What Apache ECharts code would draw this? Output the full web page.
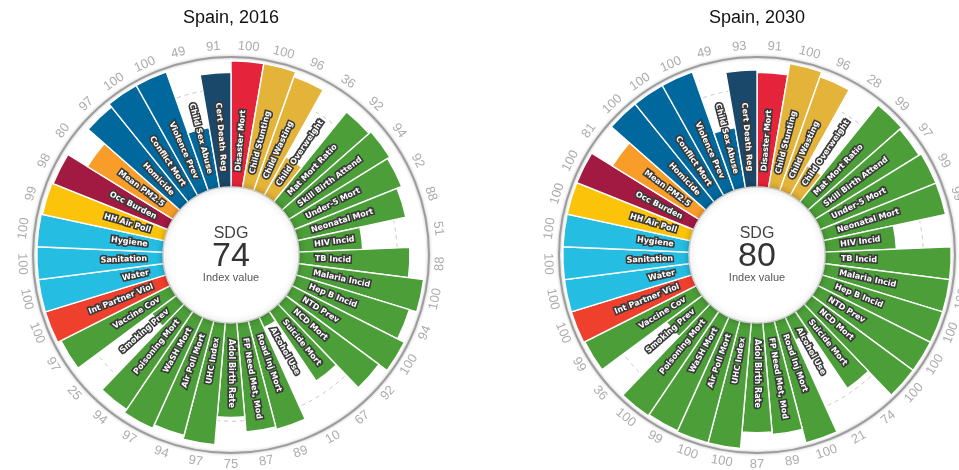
<!DOCTYPE html>
<html><head><meta charset="utf-8">
<script src="https://cdn.jsdelivr.net/npm/echarts@6/dist/echarts.min.js"></script>
<style>html,body{margin:0;padding:0;background:#fff}#c{width:959px;height:470px}</style>
</head><body><div id="c"></div>
<script>
// ---- data ----
const categories = ['Disaster Mort','Child Stunting','Child Wasting','Child Overweight','Mat Mort Ratio','Skill Birth Attend','Under-5 Mort','Neonatal Mort','HIV Incid','TB Incid','Malaria Incid','Hep B Incid','NTD Prev','NCD Mort','Suicide Mort','Alcohol Use','Road Inj Mort','FP Need Met, Mod','Adol Birth Rate','UHC Index','Air Poll Mort','WaSH Mort','Poisoning Mort','Smoking Prev','Vaccine Cov','Int Partner Viol','Water','Sanitation','Hygiene','HH Air Poll','Occ Burden','Mean PM2.5','Homicide','Conflict Mort','Violence Prev','Child Sex Abuse','Cert Death Reg'];
const goals = [1,2,2,2,3,3,3,3,3,3,3,3,3,3,3,3,3,3,3,3,3,3,3,3,3,5,6,6,6,7,8,11,16,16,16,16,17];
const values2016 = [100,100,96,36,92,94,92,88,51,88,100,94,100,92,67,10,89,87,75,97,94,97,94,25,97,100,100,100,100,99,98,80,97,100,100,49,91];
const values2030 = [91,100,96,28,99,97,99,99,57,100,100,100,100,100,74,21,100,89,87,100,100,99,100,36,99,100,100,100,100,100,100,81,100,100,100,49,93];
const titles = ['Spain, 2016','Spain, 2030'];
const indexValues = [74, 80];
const referenceValue = 78;

// ---- style ----
const goalColors = {1:'#E5243B',2:'#E3B33A',3:'#4C9F38',5:'#EF402D',6:'#26BDE2',7:'#FCC30B',8:'#A21942',11:'#F89D2A',16:'#00689D',17:'#19486A'};
const centers = [[231,255],[757,255]];
const chart = echarts.init(document.getElementById('c'));
const allValues = [values2016, values2030];

function nameLabel(params, api){
  const cs = params.coordSys;
  const p = api.coord([api.value(0), api.value(1)]);
  const dx = p[0]-cs.cx, dy = p[1]-cs.cy, len = Math.hypot(dx,dy);
  const ux = dx/len, uy = dy/len;
  const rr = cs.r0 + 17;
  const phi = Math.atan2(-uy, ux);
  const left = ux < -1e-6;
  return {type:'text', x: cs.cx+ux*rr, y: cs.cy+uy*rr, rotation: left ? phi+Math.PI : phi,
    style:{text: categories[params.dataIndex], fill:'#fff', stroke:'#3a3a3a', lineWidth:3.2,
      font:'bold 8px "DejaVu Sans"', align: left?'right':'left', verticalAlign:'middle'}};
}
function valueLabel(params, api){
  const cs = params.coordSys;
  const p = api.coord([api.value(0), api.value(1)]);
  const dx = p[0]-cs.cx, dy = p[1]-cs.cy, len = Math.hypot(dx,dy);
  const ux = dx/len, uy = dy/len;
  const rr = cs.r + 11;
  const phi = Math.atan2(-uy, ux);
  const rot = uy <= 1e-6 ? phi - Math.PI/2 : phi + Math.PI/2;
  return {type:'text', x: cs.cx+ux*rr, y: cs.cy+uy*rr, rotation: rot,
    style:{text: String(api.value(0)), fill:'#acacac', font:'13px "Liberation Sans"', align:'center', verticalAlign:'middle'}};
}

const series = [];
allValues.forEach((vals,k)=>{
  series.push({type:'bar', coordinateSystem:'polar', polarIndex:k, barCategoryGap:'0%', silent:true, z:2,
    itemStyle:{borderColor:'#fff', borderWidth:1.4},
    data: vals.map((v,i)=>({value:v, itemStyle:{color:goalColors[goals[i]]}}))});
  series.push({type:'custom', coordinateSystem:'polar', polarIndex:k, silent:true, z:4,
    data: vals.map((v,i)=>[v,i]), renderItem: nameLabel});
  series.push({type:'custom', coordinateSystem:'polar', polarIndex:k, silent:true, z:4,
    data: vals.map((v,i)=>[v,i]), renderItem: valueLabel});
  series.push({type:'pie', center:centers[k], radius:[0,68], silent:true, z:5,
    label:{show:true, position:'center', formatter:()=>'{a|SDG}\n{b|'+indexValues[k]+'}\n{c|Index value}',
      rich:{a:{fontSize:16, color:'#444', lineHeight:20, fontFamily:'Liberation Sans'},
            b:{fontSize:34, color:'#333', lineHeight:26, fontFamily:'Liberation Sans'},
            c:{fontSize:11, color:'#555', lineHeight:16, fontFamily:'Liberation Sans'}}},
    labelLine:{show:false}, emphasis:{disabled:true},
    itemStyle:{color:'#fff', borderColor:'#cfcfcf', borderWidth:1.5, shadowBlur:6, shadowColor:'rgba(0,0,0,0.25)'},
    data:[{value:1, name:'center'}]});
});

chart.setOption({
  animation:false,
  polar: centers.map(c=>({center:c, radius:[67,198]})),
  angleAxis: centers.map((c,k)=>({polarIndex:k, type:'category', data:categories, startAngle:90, clockwise:true, boundaryGap:true,
    axisLine:{show:true, lineStyle:{color:'#9d9d9d', width:2, shadowColor:'rgba(0,0,0,0.3)', shadowBlur:3}},
    axisTick:{show:false}, axisLabel:{show:false}, splitLine:{show:false}})),
  radiusAxis: centers.map((c,k)=>({polarIndex:k, type:'value', min:0, max:103, interval:referenceValue,
    axisLine:{show:false}, axisTick:{show:false}, axisLabel:{show:false},
    splitLine:{show:true, lineStyle:{color:['rgba(0,0,0,0)','#c8c8c8','rgba(0,0,0,0)'], type:[4,4], width:1}}})),
  graphic: titles.map((t,k)=>({type:'text', x:centers[k][0], y:18, style:{text:t, align:'center', verticalAlign:'middle', font:'18px "Liberation Sans"', fill:'#111'}})),
  series
});
</script></body></html>
